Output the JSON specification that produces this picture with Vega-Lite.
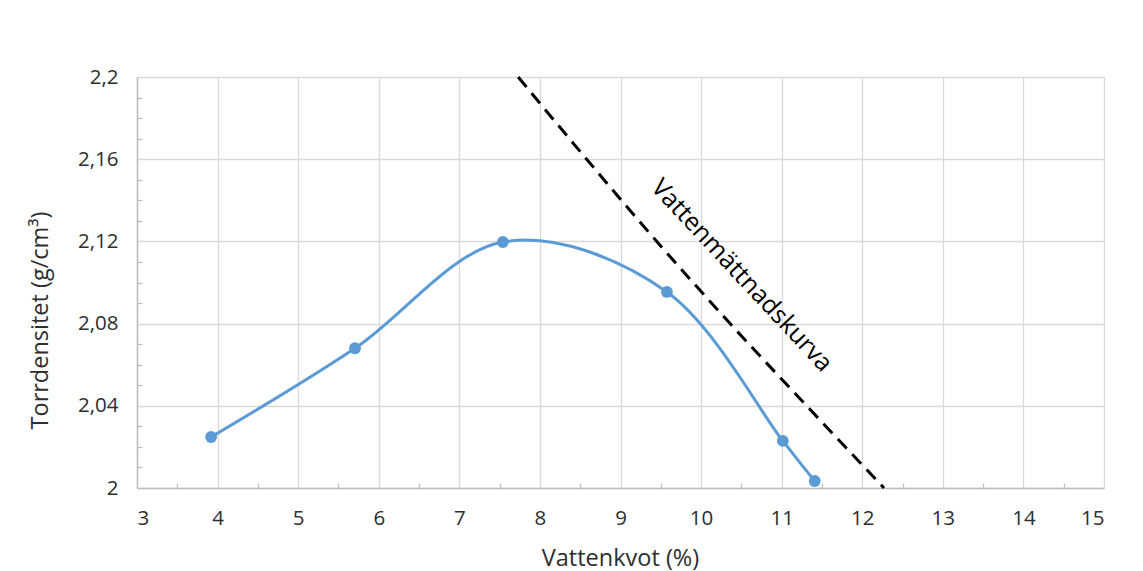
{
  "$schema": "https://vega.github.io/schema/vega-lite/v6.json",
  "width": 967,
  "height": 411,
  "autosize": "none",
  "padding": {"left": 137, "top": 77, "right": 39, "bottom": 83},
  "background": "white",
  "config": {"view": {"stroke": null}, "font": "Open Sans"},
  "datasets": {
    "measured": [
      {"w": 3.92, "rho": 2.0248},
      {"w": 5.705, "rho": 2.068},
      {"w": 7.54, "rho": 2.1197},
      {"w": 9.576, "rho": 2.0954},
      {"w": 11.015, "rho": 2.0229},
      {"w": 11.41, "rho": 2.0034}
    ],
    "saturation": [
      {"w": 7.73, "rho": 2.2},
      {"w": 8.58, "rho": 2.16},
      {"w": 9.45, "rho": 2.12},
      {"w": 10.36, "rho": 2.08},
      {"w": 11.31, "rho": 2.04},
      {"w": 12.27, "rho": 2.0}
    ],
    "label": [
      {"w": 10.506, "rho": 2.1035, "text": "Vattenmättnadskurva"}
    ]
  },
  "layer": [
    {
      "data": {"name": "measured"},
      "mark": {"type": "line", "interpolate": "cardinal", "color": "#5b9bd5", "strokeWidth": 3},
      "encoding": {
        "x": {
          "field": "w", "type": "quantitative",
          "scale": {"domain": [3, 15], "nice": false, "zero": false},
          "axis": {
            "orient": "bottom",
            "values": [3,4,5,6,7,8,9,10,11,12,13,14,15],
            "title": "Vattenkvot (%)",
            "titleFontSize": 23.5, "titleFontWeight": "normal", "titleColor": "#2e2e2e",
            "titleX": 483, "titleY": 70, "titleBaseline": "middle", "titleAlign": "center",
            "labelFontSize": 20.5, "labelColor": "#2e2e2e", "labelPadding": 20,
            "ticks": false, "grid": true, "gridColor": "#d9d9d9", "gridWidth": 1.3,
            "domainColor": "#bfbfbf", "domainWidth": 1.5
          }
        },
        "y": {
          "field": "rho", "type": "quantitative",
          "scale": {"domain": [2, 2.2], "nice": false, "zero": false},
          "axis": {
            "orient": "left",
            "values": [2, 2.04, 2.08, 2.12, 2.16, 2.2],
            "labelExpr": "replace(format(datum.value, '~g'), '.', ',')",
            "title": "Torrdensitet (g/cm³)",
            "titleFontSize": 23.5, "titleFontWeight": "normal", "titleColor": "#2e2e2e",
            "titleX": -97, "titleY": 243, "titleBaseline": "middle", "titleAlign": "center", "titleAngle": -90,
            "labelFontSize": 20.5, "labelColor": "#2e2e2e", "labelPadding": 19,
            "ticks": false, "grid": true, "gridColor": "#d9d9d9", "gridWidth": 1.3,
            "domainColor": "#bfbfbf", "domainWidth": 1.5
          }
        }
      }
    },
    {
      "data": {"name": "measured"},
      "mark": {"type": "point", "filled": true, "opacity": 1, "color": "#5b9bd5", "size": 140},
      "encoding": {
        "x": {
          "field": "w", "type": "quantitative",
          "axis": {
            "orient": "bottom",
            "values": [3.5,4.5,5.5,6.5,7.5,8.5,9.5,10.5,11.5,12.5,13.5,14.5],
            "labels": false, "title": null, "grid": false, "domain": false,
            "ticks": true, "tickSize": -5, "tickColor": "#bfbfbf", "tickWidth": 1.3
          }
        },
        "y": {
          "field": "rho", "type": "quantitative",
          "axis": {
            "orient": "left",
            "values": [2.01,2.02,2.03,2.05,2.06,2.07,2.09,2.10,2.11,2.13,2.14,2.15,2.17,2.18,2.19],
            "labels": false, "title": null, "grid": false, "domain": false,
            "ticks": true, "tickSize": -5, "tickColor": "#bfbfbf", "tickWidth": 1.3
          }
        }
      }
    },
    {
      "data": {"name": "saturation"},
      "mark": {"type": "line", "color": "black", "strokeWidth": 3, "strokeDash": [13, 8], "interpolate": "monotone"},
      "encoding": {
        "x": {"field": "w", "type": "quantitative", "axis": null},
        "y": {"field": "rho", "type": "quantitative", "axis": null}
      }
    },
    {
      "data": {"name": "label"},
      "mark": {"type": "text", "angle": 47, "align": "center", "baseline": "middle", "fontSize": 25, "color": "black"},
      "encoding": {
        "x": {"field": "w", "type": "quantitative", "axis": null},
        "y": {"field": "rho", "type": "quantitative", "axis": null},
        "text": {"field": "text"}
      }
    }
  ],
  "resolve": {"axis": {"x": "independent", "y": "independent"}}
}
